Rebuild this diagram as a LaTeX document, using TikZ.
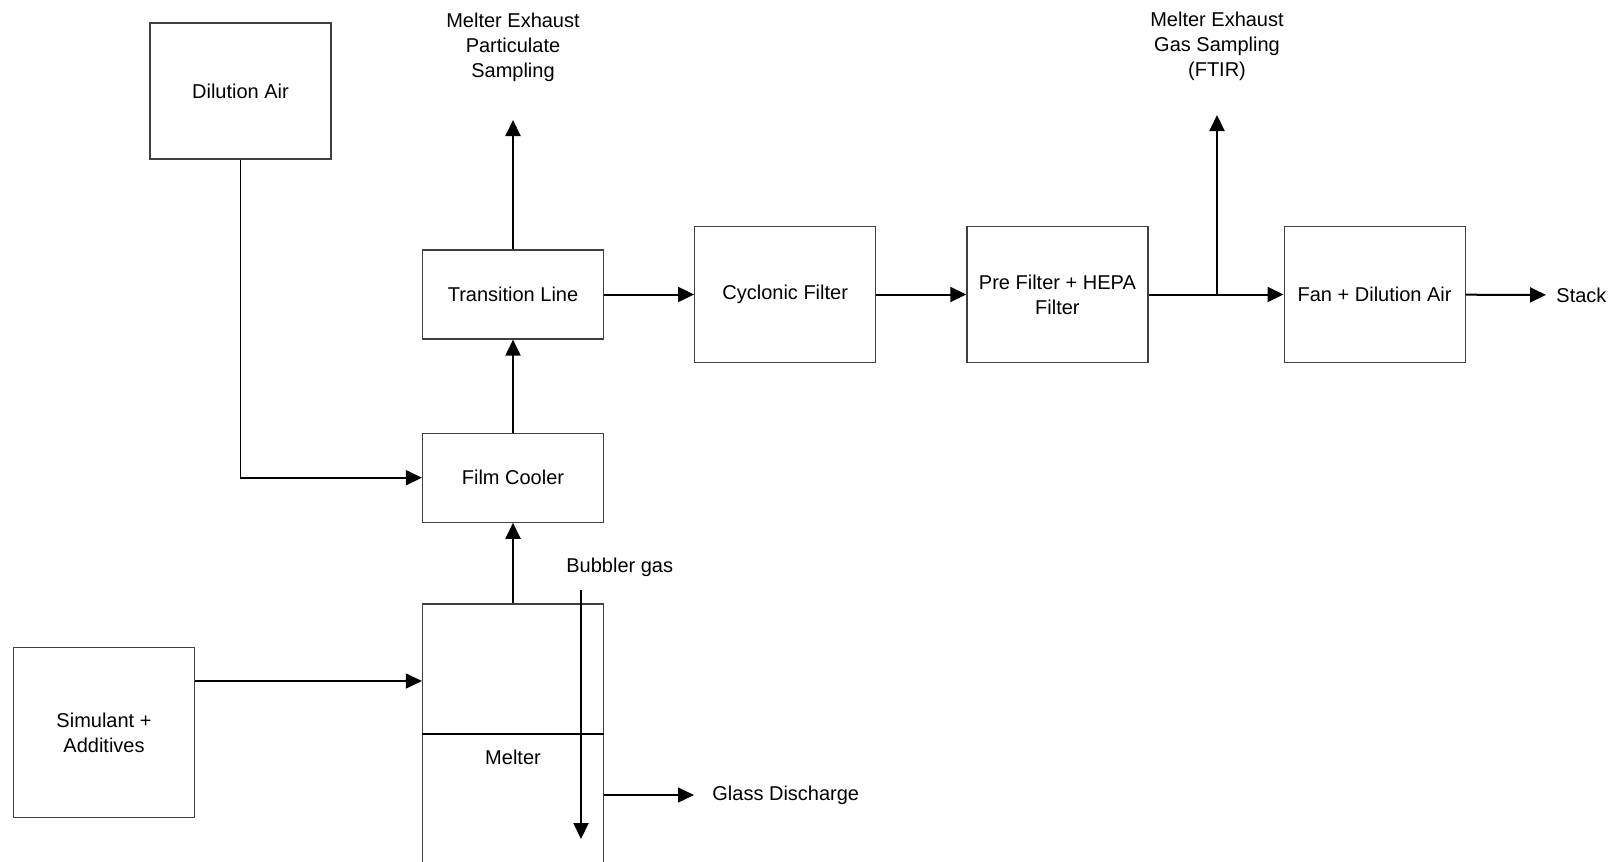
\documentclass[tikz,border=0pt]{standalone}
\usepackage{fontspec}
\setmainfont{Liberation Sans}
\usetikzlibrary{arrows.meta,positioning}

\begin{document}
\begin{tikzpicture}[
  x=0.5pt, y=-0.5pt,
  font=\fontsize{10}{12.5}\selectfont,
  box/.style={rectangle, draw=black!75, line width=0.6pt, align=center, minimum width=90.5pt, minimum height=68pt, inner sep=2pt},
  smallbox/.style={box, minimum height=44.5pt},
  lbl/.style={align=center, inner sep=0pt},
  flow/.style={-{Triangle[length=8pt, width=7.5pt]}, line width=1pt},
  feed/.style={-{Triangle[length=8pt, width=7.5pt]}, line width=0.6pt}
]
\useasboundingbox (0,0) rectangle (1612,862);
\clip (0,0) rectangle (1612,862);

% main train
\node[smallbox] (trans) at (513,294.5) {Transition Line};
\node[box, right=45pt of trans] (cyclone) {Cyclonic Filter};
\node[box, right=45pt of cyclone] (hepa) {Pre Filter + HEPA\\Filter};
\node[box, right=67.5pt of hepa] (fan) {Fan + Dilution Air};
\node[smallbox, below=46.5pt of trans] (cooler) {Film Cooler};
\node[box, below=40.3pt of cooler, minimum height=150pt] (melter) {};
\node[lbl] (meltlbl) at (513,757) {Melter};

% feeds
\node[box] (dilair) at (240.5,91) {Dilution Air};
\node[box, minimum width=90.85pt, minimum height=85.2pt] (simulant) at (104,732.5) {Simulant +\\Additives};

% outlets and labels
\node[lbl] (partsamp) at (513,47) {Melter Exhaust\\Particulate\\Sampling};
\node[lbl] (gassamp) at (1217,46) {Melter Exhaust\\Gas Sampling\\(FTIR)};
\node[lbl, anchor=west] (stack) at (1556,295) {Stack};
\node[lbl, anchor=west] (glass) at (712,795) {Glass Discharge};
\node[lbl, anchor=west] (bubbler) at (566,567) {Bubbler gas};

\coordinate (parttip) at (513,120);
\coordinate (tap) at (1217,295);
\coordinate (gastip) at (1217,115);
\coordinate (feedin) at (0,681);
\coordinate (bubin) at (581,590);
\coordinate (bubout) at (581,839);

\draw[black, line width=0.8pt] ([yshift=-65.3pt]melter.north west) -- ([yshift=-65.3pt]melter.north east);

\draw[flow] (melter.north) -- (cooler.south);
\draw[flow] (cooler) -- (trans);
\draw[flow] (trans) -- (parttip);
\draw[flow] (trans) -- (cyclone);
\draw[flow] (cyclone) -- (hepa);
\draw[flow] (hepa) -- (fan);
\draw[flow] (tap) -- (gastip);
\draw[flow, shorten >=5pt] (fan) -- (stack);
\draw[flow, line width=0.8pt] (dilair.south) |- (cooler.west);
\draw[feed] (simulant.east |- feedin) -- (melter.west |- feedin);
\draw[feed, shorten >=9pt] (melter.east |- glass) -- (glass.west);
\draw[flow] (bubin) -- (bubout);
\end{tikzpicture}
\end{document}
